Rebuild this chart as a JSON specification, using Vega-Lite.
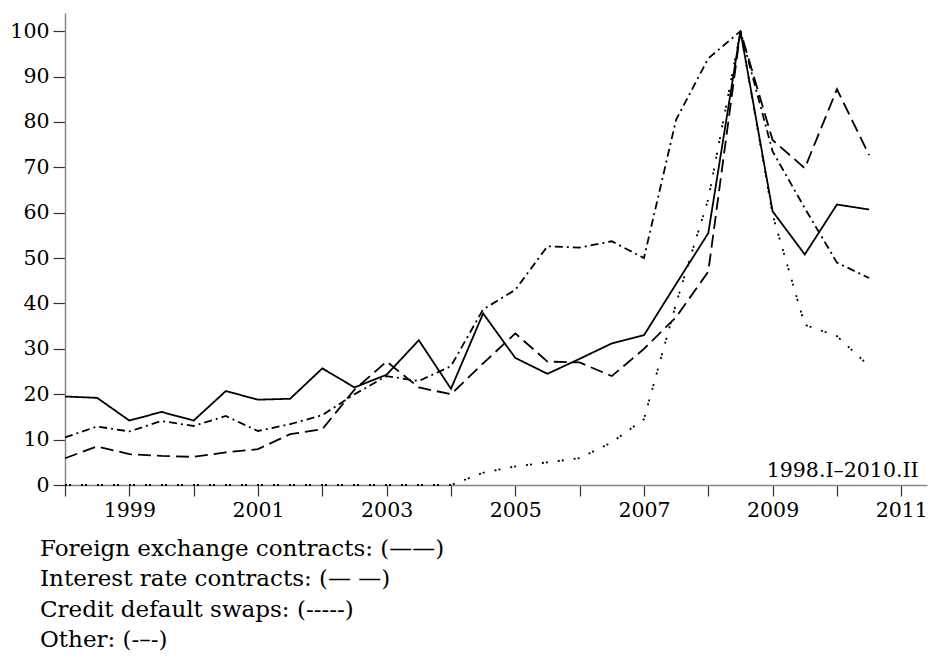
{
  "$schema": "https://vega.github.io/schema/vega-lite/v6.json",
  "autosize": {"type": "none"},
  "width": 862,
  "height": 472,
  "padding": {"left": 65, "top": 13, "right": 1, "bottom": 173},
  "background": "white",
  "config": {
    "view": {"stroke": null},
    "font": "DejaVu Serif",
    "axis": {"grid": false, "labelFont": "DejaVu Serif", "labelFontSize": 20.5, "labelColor": "black", "domainColor": "#888888", "domainWidth": 1.5, "tickColor": "#333333", "tickWidth": 1.2, "tickSize": 11, "title": null}
  },
  "title": {
    "text": ["Foreign exchange contracts: (——)", "Interest rate contracts: (— —)", "Credit default swaps: (-----)", "Other: (-–-)"],
    "orient": "bottom",
    "anchor": "start",
    "align": "left",
    "frame": "group",
    "dx": -25,
    "offset": 17,
    "font": "DejaVu Serif",
    "fontSize": 23,
    "fontWeight": "normal",
    "lineHeight": 30.5,
    "color": "black"
  },
  "datasets": {
    "series": [
      {"t": 1998.0, "s": "FX", "v": 19.5}, {"t": 1998.5, "s": "FX", "v": 19.2}, {"t": 1999.0, "s": "FX", "v": 14.2}, {"t": 1999.5, "s": "FX", "v": 16.1},
      {"t": 2000.0, "s": "FX", "v": 14.2}, {"t": 2000.5, "s": "FX", "v": 20.7}, {"t": 2001.0, "s": "FX", "v": 18.8}, {"t": 2001.5, "s": "FX", "v": 19.0},
      {"t": 2002.0, "s": "FX", "v": 25.7}, {"t": 2002.5, "s": "FX", "v": 21.5}, {"t": 2003.0, "s": "FX", "v": 24.3}, {"t": 2003.5, "s": "FX", "v": 31.9},
      {"t": 2004.0, "s": "FX", "v": 21.2}, {"t": 2004.5, "s": "FX", "v": 37.8}, {"t": 2005.0, "s": "FX", "v": 28.0}, {"t": 2005.5, "s": "FX", "v": 24.5},
      {"t": 2006.0, "s": "FX", "v": 27.8}, {"t": 2006.5, "s": "FX", "v": 31.2}, {"t": 2007.0, "s": "FX", "v": 33.0}, {"t": 2007.5, "s": "FX", "v": 44.3},
      {"t": 2008.0, "s": "FX", "v": 55.5}, {"t": 2008.5, "s": "FX", "v": 100}, {"t": 2009.0, "s": "FX", "v": 60.3}, {"t": 2009.5, "s": "FX", "v": 50.8},
      {"t": 2010.0, "s": "FX", "v": 61.8}, {"t": 2010.5, "s": "FX", "v": 60.7},

      {"t": 1998.0, "s": "IR", "v": 5.9}, {"t": 1998.5, "s": "IR", "v": 8.5}, {"t": 1999.0, "s": "IR", "v": 6.8}, {"t": 1999.5, "s": "IR", "v": 6.4},
      {"t": 2000.0, "s": "IR", "v": 6.2}, {"t": 2000.5, "s": "IR", "v": 7.2}, {"t": 2001.0, "s": "IR", "v": 7.9}, {"t": 2001.5, "s": "IR", "v": 11.2},
      {"t": 2002.0, "s": "IR", "v": 12.3}, {"t": 2002.5, "s": "IR", "v": 21.0}, {"t": 2003.0, "s": "IR", "v": 27.2}, {"t": 2003.5, "s": "IR", "v": 21.5},
      {"t": 2004.0, "s": "IR", "v": 20.0}, {"t": 2004.5, "s": "IR", "v": 26.8}, {"t": 2005.0, "s": "IR", "v": 33.4}, {"t": 2005.5, "s": "IR", "v": 27.2},
      {"t": 2006.0, "s": "IR", "v": 27.0}, {"t": 2006.5, "s": "IR", "v": 24.0}, {"t": 2007.0, "s": "IR", "v": 30.0}, {"t": 2007.5, "s": "IR", "v": 37.0},
      {"t": 2008.0, "s": "IR", "v": 47.0}, {"t": 2008.5, "s": "IR", "v": 100}, {"t": 2009.0, "s": "IR", "v": 76.0}, {"t": 2009.5, "s": "IR", "v": 69.8},
      {"t": 2010.0, "s": "IR", "v": 87.2}, {"t": 2010.5, "s": "IR", "v": 72.7},

      {"t": 1998.0, "s": "CDS", "v": 0}, {"t": 1998.5, "s": "CDS", "v": 0}, {"t": 1999.0, "s": "CDS", "v": 0}, {"t": 1999.5, "s": "CDS", "v": 0},
      {"t": 2000.0, "s": "CDS", "v": 0}, {"t": 2000.5, "s": "CDS", "v": 0}, {"t": 2001.0, "s": "CDS", "v": 0}, {"t": 2001.5, "s": "CDS", "v": 0},
      {"t": 2002.0, "s": "CDS", "v": 0}, {"t": 2002.5, "s": "CDS", "v": 0}, {"t": 2003.0, "s": "CDS", "v": 0}, {"t": 2003.5, "s": "CDS", "v": 0},
      {"t": 2004.0, "s": "CDS", "v": 0}, {"t": 2004.5, "s": "CDS", "v": 2.7}, {"t": 2005.0, "s": "CDS", "v": 4.1}, {"t": 2005.5, "s": "CDS", "v": 5.0},
      {"t": 2006.0, "s": "CDS", "v": 5.9}, {"t": 2006.5, "s": "CDS", "v": 9.4}, {"t": 2007.0, "s": "CDS", "v": 14.5}, {"t": 2007.5, "s": "CDS", "v": 40.0},
      {"t": 2008.0, "s": "CDS", "v": 63.0}, {"t": 2008.5, "s": "CDS", "v": 100}, {"t": 2009.0, "s": "CDS", "v": 59.5}, {"t": 2009.5, "s": "CDS", "v": 35.3},
      {"t": 2010.0, "s": "CDS", "v": 32.8}, {"t": 2010.5, "s": "CDS", "v": 26.2},

      {"t": 1998.0, "s": "Other", "v": 10.5}, {"t": 1998.5, "s": "Other", "v": 12.9}, {"t": 1999.0, "s": "Other", "v": 11.8}, {"t": 1999.5, "s": "Other", "v": 14.1},
      {"t": 2000.0, "s": "Other", "v": 13.0}, {"t": 2000.5, "s": "Other", "v": 15.2}, {"t": 2001.0, "s": "Other", "v": 11.9}, {"t": 2001.5, "s": "Other", "v": 13.4},
      {"t": 2002.0, "s": "Other", "v": 15.4}, {"t": 2002.5, "s": "Other", "v": 20.0}, {"t": 2003.0, "s": "Other", "v": 24.0}, {"t": 2003.5, "s": "Other", "v": 22.9},
      {"t": 2004.0, "s": "Other", "v": 26.2}, {"t": 2004.5, "s": "Other", "v": 38.7}, {"t": 2005.0, "s": "Other", "v": 43.0}, {"t": 2005.5, "s": "Other", "v": 52.6},
      {"t": 2006.0, "s": "Other", "v": 52.3}, {"t": 2006.5, "s": "Other", "v": 53.7}, {"t": 2007.0, "s": "Other", "v": 50.0}, {"t": 2007.5, "s": "Other", "v": 80.5},
      {"t": 2008.0, "s": "Other", "v": 94.0}, {"t": 2008.5, "s": "Other", "v": 100}, {"t": 2009.0, "s": "Other", "v": 73.5}, {"t": 2009.5, "s": "Other", "v": 61.0},
      {"t": 2010.0, "s": "Other", "v": 49.0}, {"t": 2010.5, "s": "Other", "v": 45.6}
    ],
    "note": [{"t": 2011.27, "v": 1.8, "label": "1998.I–2010.II"}]
  },
  "layer": [
    {
      "data": {"name": "series"},
      "mark": {"type": "line", "color": "black", "strokeWidth": 1.8, "clip": false},
      "encoding": {
        "x": {"field": "t", "type": "quantitative",
          "scale": {"domain": [1998, 2011.4], "nice": false, "zero": false},
          "axis": {"values": [1998, 1999, 2000, 2001, 2002, 2003, 2004, 2005, 2006, 2007, 2008, 2009, 2010, 2011],
                   "labelExpr": "datum.value % 2 == 1 ? toString(datum.value) : ''",
                   "labelPadding": 4, "labelFlush": false, "labelOverlap": false}},
        "y": {"field": "v", "type": "quantitative",
          "scale": {"domain": [0, 104], "nice": false},
          "axis": {"values": [0, 10, 20, 30, 40, 50, 60, 70, 80, 90, 100], "tickSize": 12, "labelPadding": 4}},
        "strokeDash": {"field": "s", "type": "nominal", "legend": null,
          "scale": {"domain": ["FX", "IR", "CDS", "Other"], "range": [[1, 0], [13, 6], [2, 2, 2, 10], [8, 4, 2, 4]]}},
        "detail": {"field": "s"}
      }
    },
    {
      "data": {"name": "note"},
      "mark": {"type": "text", "align": "right", "baseline": "alphabetic", "font": "DejaVu Serif", "fontSize": 20.5, "color": "black"},
      "encoding": {
        "x": {"field": "t", "type": "quantitative"},
        "y": {"field": "v", "type": "quantitative"},
        "text": {"field": "label"}
      }
    }
  ]
}
